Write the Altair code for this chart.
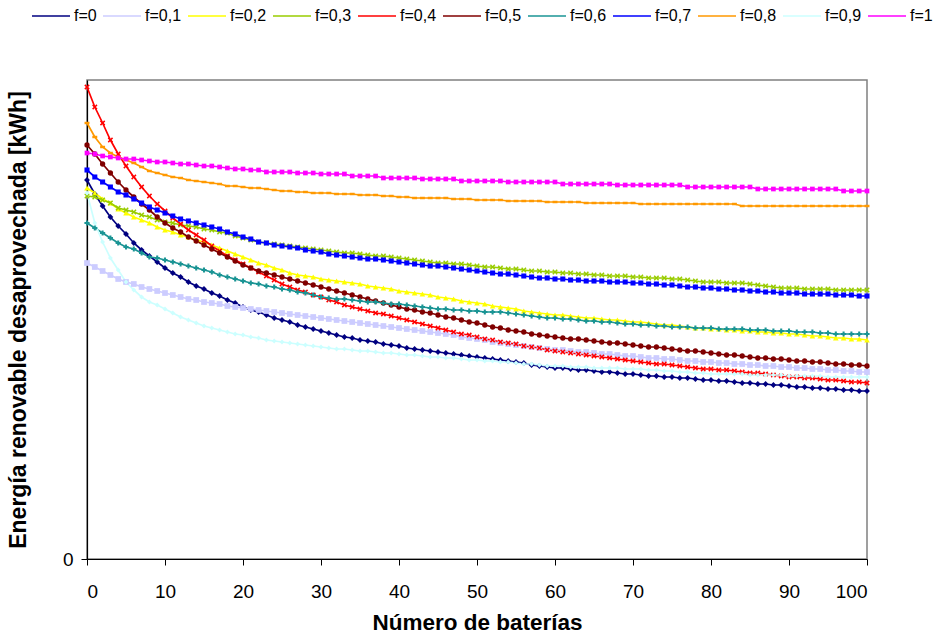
import altair as alt
import pandas as pd

# Number of batteries (x axis)
baterias = list(range(101))

labels = ["f=0", "f=0,1", "f=0,2", "f=0,3", "f=0,4", "f=0,5",
          "f=0,6", "f=0,7", "f=0,8", "f=0,9", "f=1"]

# Unused renewable energy (arbitrary units; axis only shows 0)
f_00 = [379, 365, 353, 342, 333, 325, 316, 309, 303, 297,
        291, 286, 282, 277, 273, 270, 266, 263, 259, 256,
        252, 249, 247, 244, 241, 239, 237, 234, 232, 230,
        228, 226, 224, 222, 221, 219, 218, 217, 215, 214,
        213, 211, 210, 209, 208, 207, 206, 205, 204, 203,
        202, 201, 200, 199, 198, 197, 196, 194, 193, 192,
        191, 191, 190, 189, 189, 188, 187, 187, 186, 185,
        185, 184, 183, 183, 182, 182, 181, 181, 180, 179,
        179, 178, 178, 177, 176, 176, 175, 175, 174, 174,
        173, 172, 172, 171, 171, 170, 170, 169, 169, 168,
        168]
f_01 = [296, 292, 288, 284, 280, 277, 275, 272, 270, 268,
        266, 264, 262, 260, 259, 257, 256, 255, 253, 252,
        251, 250, 249, 248, 247, 246, 245, 244, 243, 242,
        241, 240, 239, 238, 237, 236, 235, 234, 233, 232,
        231, 230, 229, 228, 227, 226, 225, 224, 222, 221,
        220, 219, 217, 216, 215, 214, 213, 212, 211, 210,
        209, 209, 208, 207, 207, 206, 205, 205, 204, 203,
        203, 202, 201, 201, 200, 200, 199, 198, 198, 197,
        197, 196, 196, 195, 195, 194, 194, 193, 193, 192,
        192, 191, 191, 190, 190, 189, 189, 188, 188, 187,
        187]
f_02 = [371, 366, 360, 356, 350, 346, 342, 339, 336, 332,
        329, 327, 324, 322, 319, 317, 314, 311, 308, 305,
        302, 299, 296, 294, 291, 289, 286, 284, 283, 282,
        280, 279, 278, 277, 276, 275, 273, 272, 271, 270,
        268, 267, 266, 265, 264, 262, 261, 260, 258, 257,
        256, 255, 253, 252, 251, 250, 248, 247, 246, 245,
        244, 244, 243, 242, 241, 241, 240, 239, 239, 238,
        237, 237, 236, 235, 234, 234, 233, 232, 231, 231,
        230, 230, 229, 229, 228, 228, 227, 227, 226, 226,
        225, 225, 224, 223, 223, 222, 221, 221, 220, 220,
        219]
f_03 = [363, 362, 359, 356, 351, 349, 347, 344, 342, 339,
        337, 336, 334, 333, 332, 330, 329, 327, 326, 323,
        321, 319, 317, 316, 315, 314, 313, 312, 311, 310,
        309, 308, 307, 306, 306, 305, 304, 303, 303, 302,
        301, 300, 299, 298, 297, 296, 296, 295, 295, 294,
        293, 292, 292, 291, 290, 290, 289, 288, 288, 287,
        287, 286, 286, 285, 285, 284, 284, 283, 283, 283,
        282, 282, 281, 281, 281, 280, 280, 279, 278, 277,
        277, 277, 276, 276, 276, 275, 274, 273, 272, 271,
        271, 271, 270, 270, 270, 270, 269, 269, 269, 269,
        269]
f_04 = [472, 452, 436, 419, 405, 393, 382, 372, 363, 355,
        348, 341, 335, 329, 324, 319, 313, 308, 303, 299,
        295, 291, 287, 283, 279, 275, 272, 269, 267, 264,
        262, 259, 257, 254, 252, 250, 248, 246, 245, 243,
        241, 239, 237, 235, 233, 231, 229, 227, 225, 224,
        222, 220, 219, 217, 216, 215, 213, 212, 211, 209,
        208, 207, 206, 205, 204, 203, 202, 201, 200, 199,
        198, 197, 196, 195, 195, 194, 193, 192, 191, 190,
        190, 189, 189, 188, 187, 186, 186, 185, 184, 183,
        182, 182, 181, 181, 180, 179, 179, 178, 177, 177,
        176]
f_05 = [414, 405, 395, 386, 377, 369, 362, 355, 349, 342,
        336, 331, 327, 322, 318, 314, 310, 306, 302, 298,
        294, 291, 288, 286, 284, 282, 280, 278, 276, 274,
        272, 270, 268, 266, 264, 262, 260, 258, 256, 254,
        252, 250, 249, 247, 246, 244, 242, 241, 239, 237,
        236, 234, 232, 231, 229, 228, 227, 225, 224, 223,
        222, 221, 220, 220, 219, 218, 217, 216, 216, 215,
        214, 213, 212, 212, 211, 210, 209, 208, 208, 207,
        206, 205, 204, 204, 203, 202, 201, 201, 200, 200,
        199, 198, 198, 197, 197, 196, 195, 195, 194, 194,
        193]
f_06 = [336, 331, 326, 321, 316, 312, 310, 306, 302, 301,
        299, 297, 295, 293, 291, 289, 287, 284, 282, 280,
        278, 276, 275, 273, 272, 270, 269, 267, 266, 264,
        262, 261, 260, 260, 259, 258, 257, 257, 256, 255,
        255, 254, 253, 252, 251, 250, 250, 249, 249, 248,
        248, 247, 247, 247, 246, 245, 244, 243, 242, 241,
        241, 240, 240, 239, 238, 238, 237, 237, 236, 235,
        235, 234, 234, 233, 233, 232, 232, 232, 231, 231,
        231, 230, 230, 230, 230, 229, 229, 229, 228, 228,
        228, 227, 227, 227, 226, 226, 225, 225, 225, 225,
        225]
f_07 = [389, 382, 377, 372, 367, 364, 360, 356, 352, 349,
        346, 343, 340, 338, 336, 334, 332, 330, 327, 325,
        322, 320, 317, 316, 314, 313, 312, 311, 309, 308,
        307, 305, 304, 303, 302, 301, 300, 300, 299, 298,
        297, 296, 295, 294, 293, 293, 292, 291, 290, 289,
        288, 287, 286, 285, 285, 284, 283, 282, 281, 281,
        280, 280, 279, 279, 278, 278, 278, 277, 277, 277,
        276, 276, 275, 275, 274, 274, 273, 272, 272, 271,
        271, 270, 270, 269, 269, 268, 268, 267, 267, 266,
        266, 266, 265, 265, 265, 265, 264, 264, 264, 263,
        263]
f_08 = [436, 422, 412, 406, 402, 399, 396, 392, 388, 386,
        384, 382, 381, 379, 378, 377, 376, 375, 373, 373,
        372, 371, 371, 370, 369, 368, 368, 367, 367, 366,
        366, 366, 365, 365, 365, 364, 364, 364, 363, 363,
        362, 362, 361, 361, 361, 361, 361, 360, 360, 360,
        359, 359, 359, 359, 358, 358, 358, 358, 358, 357,
        357, 357, 357, 357, 356, 356, 356, 356, 356, 356,
        356, 355, 355, 355, 355, 355, 355, 355, 355, 355,
        355, 355, 355, 355, 353, 353, 353, 353, 353, 353,
        353, 353, 353, 353, 353, 353, 353, 353, 353, 353,
        353]
f_09 = [366, 336, 317, 301, 289, 277, 269, 262, 257, 254,
        250, 246, 242, 239, 236, 233, 231, 229, 227, 225,
        224, 222, 221, 219, 218, 217, 216, 215, 214, 213,
        212, 211, 210, 210, 209, 208, 208, 207, 206, 206,
        205, 204, 204, 203, 202, 202, 201, 201, 200, 199,
        199, 198, 198, 197, 197, 196, 195, 195, 194, 193,
        193, 193, 192, 192, 192, 191, 191, 191, 191, 190,
        190, 190, 189, 189, 188, 188, 187, 187, 186, 186,
        185, 185, 185, 185, 185, 184, 184, 184, 184, 184,
        183, 183, 183, 183, 183, 182, 182, 182, 182, 182,
        182]
f_10 = [406, 405, 403, 402, 401, 400, 400, 399, 398, 397,
        397, 396, 395, 395, 394, 393, 393, 392, 391, 390,
        390, 389, 389, 387, 387, 387, 387, 386, 386, 386,
        385, 385, 385, 385, 383, 383, 383, 383, 381, 381,
        381, 381, 381, 380, 380, 380, 380, 380, 378, 378,
        378, 378, 378, 378, 377, 377, 377, 377, 377, 377,
        377, 375, 375, 375, 375, 375, 375, 375, 374, 374,
        374, 374, 374, 374, 374, 374, 374, 372, 372, 372,
        372, 372, 372, 372, 372, 372, 370, 370, 370, 370,
        370, 370, 370, 370, 370, 370, 370, 368, 368, 368,
        368]

series = [f_00, f_01, f_02, f_03, f_04, f_05, f_06, f_07, f_08, f_09, f_10]

colors = ["#000080", "#CCCCFF", "#FFFF00", "#99CC00", "#FF0000", "#800000",
          "#1A9494", "#0000FF", "#FF9900", "#CCFFFF", "#FF00FF"]

X_PATH = "M-1,-0.6L-0.6,-1L0,-0.4L0.6,-1L1,-0.6L0.4,0L1,0.6L0.6,1L0,0.4L-0.6,1L-1,0.6L-0.4,0Z"
DASH_PATH = "M-1,-0.5L1,-0.5L1,0.5L-1,0.5Z"
shapes = ["diamond", "square", "triangle-up", X_PATH, X_PATH, "circle",
          "cross", "square", DASH_PATH, "diamond", "square"]
marker_sizes = [34, 22, 32, 36, 40, 16, 40, 24, 90, 22, 24]
line_widths = [1.7, 1.7, 1.7, 1.7, 1.9, 1.7, 1.7, 1.7, 3.2, 1.7, 1.7]

rows = []
for lab, vals in zip(labels, series):
    assert len(vals) == len(baterias)
    for n, v in zip(baterias, vals):
        rows.append({"n": n, "v": v, "f": lab})
df = pd.DataFrame(rows)

FONT = "Liberation Sans"

x_enc = alt.X("n:Q",
              scale=alt.Scale(domain=[0, 100], nice=False, zero=False),
              axis=alt.Axis(title="Número de baterías", values=list(range(0, 101, 10)),
                            grid=False, domainColor="#000000", domainWidth=1.2,
                            tickColor="#000000", tickSize=6, tickWidth=1,
                            labelFontSize=19, labelPadding=17, labelColor="#000000",
                            labelFont=FONT, titleFont=FONT, titleFontSize=22.5,
                            titleFontWeight="bold", titleColor="#000000",
                            titlePadding=10))
y_enc = alt.Y("v:Q",
              scale=alt.Scale(domain=[0, 479], nice=False),
              axis=alt.Axis(title="Energía renovable desaprovechada [kWh]", values=[0],
                            grid=False, domainColor="#000000", domainWidth=1.2,
                            tickColor="#000000", tickSize=6, tickWidth=1,
                            labelFontSize=19, labelPadding=8, labelColor="#000000",
                            labelFont=FONT, titleFont=FONT, titleFontSize=23,
                            titleFontWeight="bold", titleColor="#000000",
                            titlePadding=32))

color_scale = alt.Scale(domain=labels, range=colors)

lines = alt.Chart(df).mark_line().encode(
    x=x_enc, y=y_enc,
    color=alt.Color("f:N", scale=color_scale, sort=labels,
                    legend=alt.Legend(title=None, orient="none", direction="horizontal",
                                      legendX=-56, legendY=-84,
                                      symbolType="stroke", symbolSize=1444,
                                      symbolStrokeWidth=2, labelFontSize=16,
                                      labelFont=FONT, labelColor="#000000",
                                      labelOffset=3, columnPadding=2,
                                      gridAlign="none", padding=0)),
    strokeWidth=alt.StrokeWidth("f:N", scale=alt.Scale(domain=labels, range=line_widths),
                                legend=None),
)

points = alt.Chart(df).mark_point(filled=True, opacity=1).encode(
    x=x_enc, y=y_enc,
    color=alt.Color("f:N", scale=color_scale, sort=labels, legend=None),
    shape=alt.Shape("f:N", scale=alt.Scale(domain=labels, range=shapes), legend=None),
    size=alt.Size("f:N", scale=alt.Scale(domain=labels, range=marker_sizes), legend=None),
)

chart = alt.layer(lines, points).resolve_legend(
    color="independent", shape="independent", size="independent",
    strokeWidth="independent"
).properties(
    width=780, height=479,
    autosize=alt.AutoSizeParams(type="none"),
    padding={"left": 87, "top": 80, "right": 73, "bottom": 75},
    background="#FFFFFF",
).configure_view(
    stroke="#808080", strokeWidth=1.5
)

chart.save("out.html", embed_options={"renderer": "svg", "actions": False})
